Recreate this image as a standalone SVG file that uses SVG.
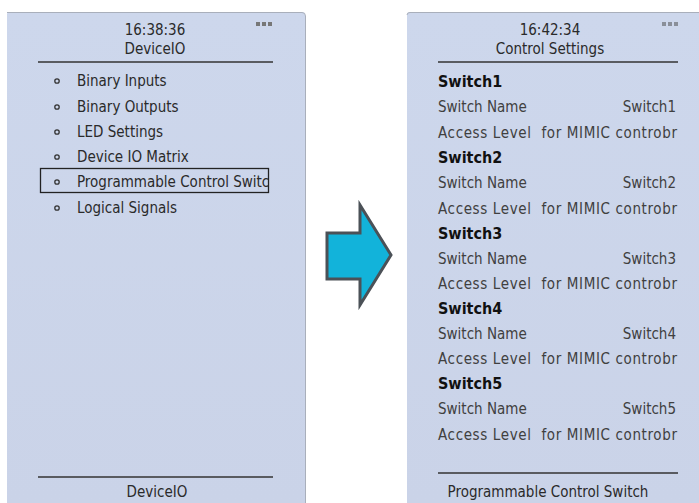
<svg xmlns="http://www.w3.org/2000/svg" width="699" height="503" viewBox="0 0 699 503">
<style>
  .edge { stroke: #a9afbb; stroke-width: 1; fill: none; }
  .t { font-family: "DejaVu Sans Condensed", "DejaVu Sans", sans-serif; font-stretch: condensed; font-size: 15px; fill: #2a2a2a; }
  .h { text-anchor: middle; }
  .g { fill: #404040; }
  .b { font-weight: bold; font-size: 16px; fill: #111; }
  .rule { stroke: #333; stroke-width: 1.6; }
  .bul { fill: none; stroke: #333; stroke-width: 1.3; }
  .ico { fill: #777; }
</style>
<defs>
  <clipPath id="boxclip"><rect x="41" y="168" width="227" height="24"/></clipPath>
  <linearGradient id="pg" x1="0" y1="0" x2="0" y2="1">
    <stop offset="0" stop-color="#cdd7ec"/>
    <stop offset="1" stop-color="#cad3e8"/>
  </linearGradient>
</defs>
<rect width="699" height="503" fill="#ffffff"/>

<g id="screen-deviceio">
  <path d="M7,503 V14 Q7,12 9,12 H302 Q305,12 305,15 V503 Z" fill="url(#pg)"/>
  <path class="edge" d="M7,12.5 H302 Q305.5,12.5 305.5,16 V503"/>
  <g class="ico"><rect x="256" y="22" width="4" height="4"/><rect x="262" y="22" width="4" height="4"/><rect x="268" y="22" width="4" height="4"/></g>
  <text class="t h" x="155" y="35">16:38:36</text>
  <text class="t h" x="155" y="54">DeviceIO</text>
  <line class="rule" x1="38" y1="62" x2="273" y2="62"/>
  <g class="bul">
    <circle cx="57" cy="81" r="2.2"/>
    <circle cx="57" cy="107" r="2.2"/>
    <circle cx="57" cy="132" r="2.2"/>
    <circle cx="57" cy="157" r="2.2"/>
    <circle cx="57" cy="182" r="2.2"/>
    <circle cx="57" cy="208" r="2.2"/>
  </g>
  <text class="t" x="77" y="86">Binary Inputs</text>
  <text class="t" x="77" y="112">Binary Outputs</text>
  <text class="t" x="77" y="137">LED Settings</text>
  <text class="t" x="77" y="162">Device IO Matrix</text>
  <text class="t" x="77" y="187" clip-path="url(#boxclip)">Programmable Control Switch</text>
  <text class="t" x="77" y="213">Logical Signals</text>
  <rect x="40.5" y="168.5" width="228" height="24" fill="none" stroke="#222" stroke-width="1.3"/>
  <line class="rule" x1="38" y1="477" x2="273" y2="477"/>
  <text class="t h" x="157" y="497">DeviceIO</text>
</g>

<g id="connectors">
  <polygon points="327,233 360,233 360,205 391,255 360,305 360,279 327,279" fill="#12b3da" stroke="#4b5157" stroke-width="3" stroke-linejoin="miter"/>
</g>

<g id="screen-control-settings">
  <path d="M407,503 V15 Q407,12 410,12 H699 V503 Z" fill="url(#pg)"/>
  <path class="edge" d="M407,15 Q407,12.5 410,12.5 H699"/>
  <g fill="#8a8f99"><rect x="662" y="22" width="4" height="4"/><rect x="668" y="22" width="4" height="4"/><rect x="674" y="22" width="4" height="4"/></g>
  <text class="t h" x="550" y="35">16:42:34</text>
  <text class="t h" x="550" y="54">Control Settings</text>
  <line class="rule" x1="438" y1="62" x2="678" y2="62"/>

  <text class="t b" x="438" y="87">Switch1</text>
  <text class="t g" x="438" y="112">Switch Name</text>
  <text class="t g" x="676" y="112" text-anchor="end">Switch1</text>
  <text class="t g" x="438" y="138" textLength="239" xml:space="preserve">Access Level  for MIMIC controbr</text>

  <text class="t b" x="438" y="163">Switch2</text>
  <text class="t g" x="438" y="188">Switch Name</text>
  <text class="t g" x="676" y="188" text-anchor="end">Switch2</text>
  <text class="t g" x="438" y="214" textLength="239" xml:space="preserve">Access Level  for MIMIC controbr</text>

  <text class="t b" x="438" y="239">Switch3</text>
  <text class="t g" x="438" y="264">Switch Name</text>
  <text class="t g" x="676" y="264" text-anchor="end">Switch3</text>
  <text class="t g" x="438" y="289" textLength="239" xml:space="preserve">Access Level  for MIMIC controbr</text>

  <text class="t b" x="438" y="314">Switch4</text>
  <text class="t g" x="438" y="339">Switch Name</text>
  <text class="t g" x="676" y="339" text-anchor="end">Switch4</text>
  <text class="t g" x="438" y="364" textLength="239" xml:space="preserve">Access Level  for MIMIC controbr</text>

  <text class="t b" x="438" y="389">Switch5</text>
  <text class="t g" x="438" y="414">Switch Name</text>
  <text class="t g" x="676" y="414" text-anchor="end">Switch5</text>
  <text class="t g" x="438" y="440" textLength="239" xml:space="preserve">Access Level  for MIMIC controbr</text>

  <line class="rule" x1="438" y1="473" x2="678" y2="473"/>
  <text class="t h" x="548" y="497">Programmable Control Switch</text>
</g>
</svg>
